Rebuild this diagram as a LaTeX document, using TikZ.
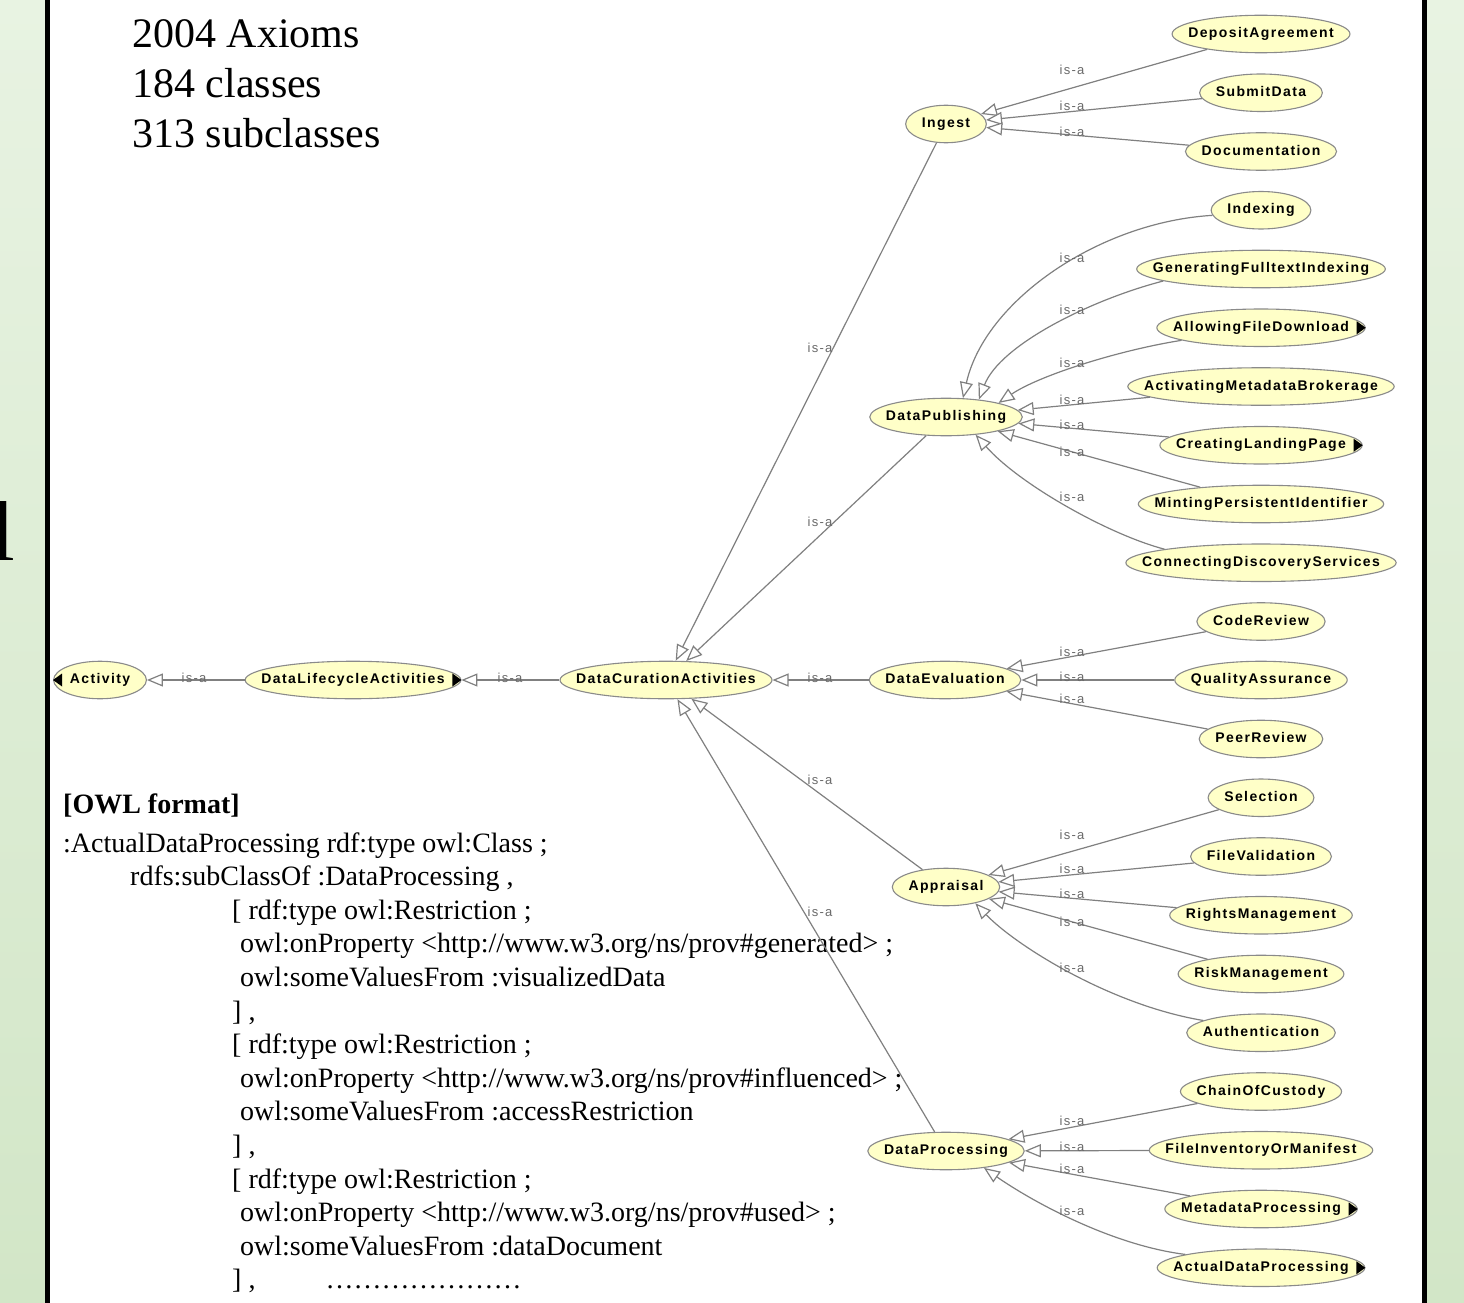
\documentclass[tikz,border=0pt]{standalone}
\usepackage{fontspec}
\setmainfont{Liberation Serif}
\newfontfamily\ovsans[LetterSpace=10]{Liberation Sans}
\usetikzlibrary{arrows.meta,shapes.geometric,calc}
\pgfdeclarelayer{bglayer}
\pgfdeclarelayer{elllayer}
\pgfsetlayers{bglayer,elllayer,main}
\definecolor{ellfill}{HTML}{FFFFC8}
\definecolor{elldraw}{HTML}{8A8A8A}
\definecolor{edgecol}{HTML}{808080}
\definecolor{labcol}{HTML}{6A6A6A}
\definecolor{grtop}{HTML}{E8F3E2}
\definecolor{grbot}{HTML}{D2E6C7}
\newcommand\clsfont{\ovsans\bfseries\fontsize{14}{16}\selectfont}
\newcommand\isafont{\ovsans\fontsize{13}{15}\selectfont}
% class: text node (#1t) on top, ellipse node (#1) of width text+32pt below it
\newcommand\cls[3]{%
  \node[clstext] (#1t) at (#2) {#3};
  \begin{pgfonlayer}{elllayer}
  \path let \p1=($(#1t.east)-(#1t.west)$) in node[cls,minimum width=\x1+32pt] (#1) at (#2) {};
  \end{pgfonlayer}}
\newcommand\moreR[1]{\fill ($(#1.east)+(-9,-6.5)$) -- ($(#1.east)+(-9,6.5)$) -- ($(#1.east)+(0,0)$) -- cycle;}
\newcommand\moreL[1]{\fill ($(#1.west)+(9,-6.5)$) -- ($(#1.west)+(9,6.5)$) -- ($(#1.west)+(0,0)$) -- cycle;}
\begin{document}
\begin{tikzpicture}[x=1pt,y=-1pt,
 clstext/.style={inner sep=0pt,font=\clsfont,text=black,text height=10pt,text depth=3pt},
 cls/.style={ellipse,draw=elldraw,fill=ellfill,line width=1.1pt,inner sep=0pt,minimum height=37.5pt},
 isa/.style={draw=edgecol,line width=1.2pt,-{Triangle[length=16pt,width=13pt,fill=white]}},
 lab/.style={font=\isafont,text=labcol,inner sep=0pt,anchor=base},
 owl/.style={anchor=base west,inner sep=0pt,font=\fontsize{28}{28}\selectfont},
 stat/.style={anchor=base west,inner sep=0pt,font=\fontsize{42}{50}\selectfont}]
\useasboundingbox (0,0) rectangle (1464,1303);
\begin{pgfonlayer}{bglayer}
\fill[white] (0,0) rectangle (1464,1303);
\shade[top color=grtop,bottom color=grbot] (0,0) rectangle (47,1303);
\shade[top color=grtop,bottom color=grbot] (1424,0) rectangle (1464,1303);
\begin{scope}
\clip (0,0) rectangle (45,1303);
\node[anchor=base west,inner sep=0pt,font=\fontsize{85}{85}\selectfont] (cutglyph) at (-9,560) {l};
\end{scope}
\fill[black] (45,0) rectangle (50,1303);
\fill[black] (1422,0) rectangle (1427,1303);
\end{pgfonlayer}
% statistics
\node[stat] (st1) at (132,48) {2004 Axioms};
\node[stat] (st2) at (132,98) {184 classes};
\node[stat] (st3) at (132,148) {313 subclasses};
% OWL text
\node[owl,font=\bfseries\fontsize{28}{28}\selectfont] (owl0) at (63,813) {[OWL format]};
\node[owl] (owl1) at (63,852) {:ActualDataProcessing rdf:type owl:Class ;};
\node[owl] (owl2) at (130,885.6) {rdfs:subClassOf :DataProcessing ,};
\node[owl] (owl3) at (232,919.2) {[ rdf:type owl:Restriction ;};
\node[owl] (owl4) at (240,952.8) {owl:onProperty <http://www.w3.org/ns/prov\#generated> ;};
\node[owl] (owl5) at (240,986.4) {owl:someValuesFrom :visualizedData};
\node[owl] (owl6) at (232,1020) {] ,};
\node[owl] (owl7) at (232,1053.6) {[ rdf:type owl:Restriction ;};
\node[owl] (owl8) at (240,1087.2) {owl:onProperty <http://www.w3.org/ns/prov\#influenced> ;};
\node[owl] (owl9) at (240,1120.8) {owl:someValuesFrom :accessRestriction};
\node[owl] (owl10) at (232,1154.4) {] ,};
\node[owl] (owl11) at (232,1188) {[ rdf:type owl:Restriction ;};
\node[owl] (owl12) at (240,1221.6) {owl:onProperty <http://www.w3.org/ns/prov\#used> ;};
\node[owl] (owl13) at (240,1255.2) {owl:someValuesFrom :dataDocument};
\node[owl] (owl14) at (232,1288.8) {] ,\hspace{70pt}…………………};
% class nodes
\cls{act}{100,680}{Activity}
\cls{dla}{353,680}{DataLifecycleActivities}
\cls{dca}{666,680}{DataCurationActivities}
\cls{ing}{946,124}{Ingest}
\cls{dpub}{946,417}{DataPublishing}
\cls{deval}{945,680}{DataEvaluation}
\cls{appr}{946,887}{Appraisal}
\cls{dproc}{946,1151}{DataProcessing}
\cls{depo}{1261,34}{DepositAgreement}
\cls{subm}{1261,92.75}{SubmitData}
\cls{docu}{1261,151.5}{Documentation}
\cls{idx}{1261,210.25}{Indexing}
\cls{gfi}{1261,269}{GeneratingFulltextIndexing}
\cls{afd}{1261,327.75}{AllowingFileDownload}
\cls{amb}{1261,386.5}{ActivatingMetadataBrokerage}
\cls{clp}{1261,445.25}{CreatingLandingPage}
\cls{mpi}{1261,504}{MintingPersistentIdentifier}
\cls{cds}{1261,562.75}{ConnectingDiscoveryServices}
\cls{crev}{1261,621.5}{CodeReview}
\cls{qa}{1261,680}{QualityAssurance}
\cls{prev}{1261,739}{PeerReview}
\cls{sel}{1261,797.75}{Selection}
\cls{fval}{1261,856.5}{FileValidation}
\cls{rights}{1261,915.25}{RightsManagement}
\cls{risk}{1261,974}{RiskManagement}
\cls{auth}{1261,1032.75}{Authentication}
\cls{coc}{1261,1091.5}{ChainOfCustody}
\cls{fim}{1261,1150.25}{FileInventoryOrManifest}
\cls{mproc}{1261,1209}{MetadataProcessing}
\cls{adp}{1261,1267.75}{ActualDataProcessing}
\moreL{act}
\moreR{dla}
\moreR{afd}
\moreR{clp}
\moreR{mproc}
\moreR{adp}
% is-a edges, left row
\draw[isa] (dla) -- (act) node[lab] at (194,682) {is-a};
\draw[isa] (dca) -- (dla) node[lab] at (510,682) {is-a};
\draw[isa] (deval) -- (dca) node[lab] at (820,682) {is-a};
\draw[isa] (ing) -- (dca) node[lab] at (820,352) {is-a};
\draw[isa] (dpub) -- (dca) node[lab] at (820,526) {is-a};
\draw[isa] (appr) -- (dca) node[lab] at (820,784) {is-a};
\draw[isa] (dproc) -- (dca) node[lab] at (820,916) {is-a};
% Ingest
\draw[isa] (depo) -- (ing) node[lab] at (1072,75) {is-a};
\draw[isa] (subm) -- (ing) node[lab] at (1072,111) {is-a};
\draw[isa] (docu) -- (ing) node[lab] at (1072,136) {is-a};
% DataPublishing
\draw[isa] (idx.186) .. controls (1100,222) and (985,300) .. (dpub.48) node[lab] at (1072,262) {is-a};
\draw[isa] (gfi.187) .. controls (1090,300) and (1000,345) .. (dpub.28) node[lab] at (1072,314) {is-a};
\draw[isa] (afd.189) .. controls (1120,350) and (1040,375) .. (dpub.15) node[lab] at (1072,367) {is-a};
\draw[isa] (amb) -- (dpub) node[lab] at (1072,404) {is-a};
\draw[isa] (clp) -- (dpub) node[lab] at (1072,429) {is-a};
\draw[isa] (mpi) -- (dpub) node[lab] at (1072,456) {is-a};
\draw[isa] (cds.172) .. controls (1110,535) and (1020,485) .. (dpub.-31) node[lab] at (1072,501) {is-a};
% DataEvaluation
\draw[isa] (crev) -- (deval) node[lab] at (1072,656) {is-a};
\draw[isa] (qa) -- (deval) node[lab] at (1072,681) {is-a};
\draw[isa] (prev) -- (deval) node[lab] at (1072,703) {is-a};
% Appraisal
\draw[isa] (sel) -- (appr) node[lab] at (1072,839) {is-a};
\draw[isa] (fval) -- (appr) node[lab] at (1072,873) {is-a};
\draw[isa] (rights) -- (appr) node[lab] at (1072,898) {is-a};
\draw[isa] (risk) -- (appr) node[lab] at (1072,926) {is-a};
\draw[isa] (auth.168) .. controls (1110,1005) and (1015,945) .. (appr.-29) node[lab] at (1072,972) {is-a};
% DataProcessing
\draw[isa] (coc) -- (dproc) node[lab] at (1072,1125) {is-a};
\draw[isa] (fim) -- (dproc) node[lab] at (1072,1151) {is-a};
\draw[isa] (mproc) -- (dproc) node[lab] at (1072,1173) {is-a};
\draw[isa] (adp.170) .. controls (1110,1245) and (1030,1200) .. (dproc.-24) node[lab] at (1072,1215) {is-a};
\end{tikzpicture}
\end{document}
